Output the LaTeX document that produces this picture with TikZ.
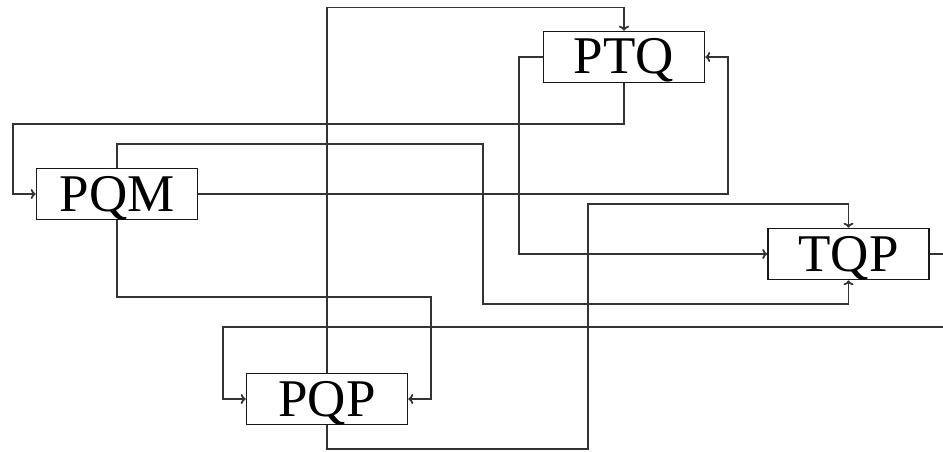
\documentclass[tikz,border=0pt]{standalone}
\usepackage{fontspec}
\setmainfont{Liberation Serif}
\usetikzlibrary{arrows.meta}
\begin{document}
\begin{tikzpicture}[x=1pt,y=-1pt,
  box/.style={draw=black!90,line width=1.5pt,minimum width=161pt,minimum height=51pt,inner sep=0pt,
    text height=36pt,text depth=2pt,font=\fontsize{53}{60}\selectfont},
  wire/.style={draw=black!80,line width=1.8pt},
  arr/.style={wire,-{To[length=5pt,width=10pt]}}]
\useasboundingbox (0,0) rectangle (943,452);
\clip (0,0) rectangle (943,452);
\node[box] (ptq) at (624,57) {PTQ};
\node[box] (pqm) at (117,194) {PQM};
\node[box] (tqp) at (848.5,254) {TQP};
\node[box] (pqp) at (327,399) {PQP};
\coordinate (r) at (965,254);
% PQP -> PTQ
\draw[arr] (pqp.north) -- (327,7.5) -| (ptq.north);
% PTQ -> PQM
\draw[arr] (ptq.south) |- (13,124) |- (pqm.west);
% PQM -> TQP (bottom)
\draw[arr] (pqm.north) |- (483,144) -- (483,304) -| (tqp.south);
% PQM -> PTQ (right)
\draw[arr] (pqm.east) -- (728,194) |- (ptq.east);
% PTQ -> TQP (left)
\draw[arr] (ptq.west) -- (519,57) |- (tqp.west);
% PQM -> PQP (right)
\draw[arr] (pqm.south) |- (431,297) |- (pqp.east);
% PQP -> TQP (top)
\draw[arr] (pqp.south) |- (588,449) |- (700,204) -| (tqp.north);
% TQP -> PQP (left)
\draw[arr] (tqp.east) -- (r) |- (223,327) |- (pqp.west);
\end{tikzpicture}
\end{document}
